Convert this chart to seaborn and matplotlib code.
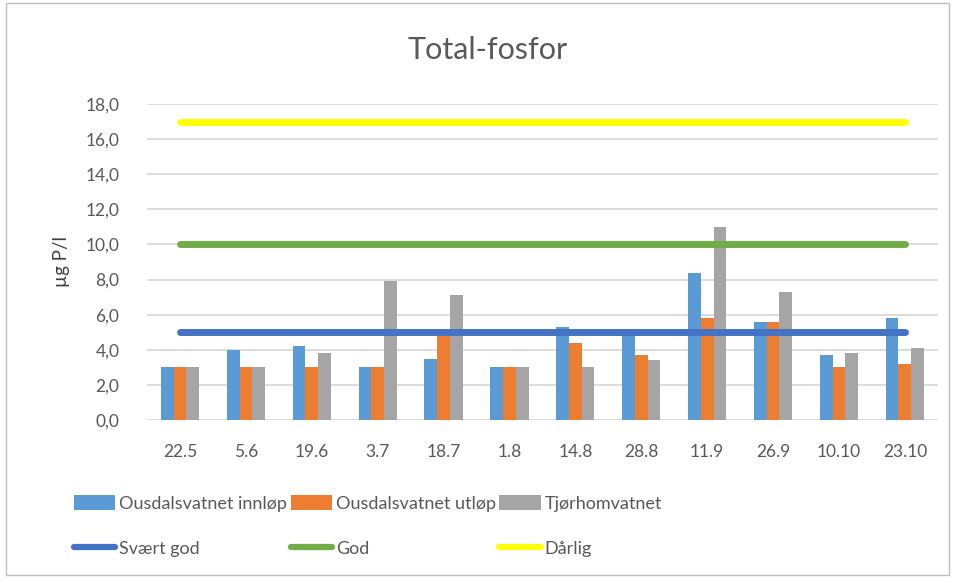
import matplotlib
matplotlib.use("Agg")
import matplotlib.pyplot as plt
from matplotlib.lines import Line2D
from matplotlib.patches import Patch, Rectangle
from matplotlib.ticker import FuncFormatter
import pandas as pd
import seaborn as sns

dates = ['22.5', '5.6', '19.6', '3.7', '18.7', '1.8', '14.8', '28.8', '11.9', '26.9', '10.10', '23.10']
innlop = [3.0, 4.0, 4.2, 3.0, 3.5, 3.0, 5.3, 5.0, 8.4, 5.6, 3.7, 5.8]
utlop = [3.0, 3.0, 3.0, 3.0, 4.8, 3.0, 4.4, 3.7, 5.8, 5.6, 3.0, 3.2]
tjorhom = [3.0, 3.0, 3.8, 7.9, 7.1, 3.0, 3.0, 3.4, 11.0, 7.3, 3.8, 4.1]
series = ['Ousdalsvatnet innløp', 'Ousdalsvatnet utløp', 'Tjørhomvatnet']
limit_names = ['Svært god', 'God', 'Dårlig']
limit_values = [5.0, 10.0, 17.0]

bar_colors = ['#5B9BD5', '#ED7D31', '#A5A5A5']
line_colors = ['#4472C4', '#70AD47', '#FFFF00']
txt = '#595959'

df = pd.DataFrame({
    'dato': dates * 3,
    'verdi': innlop + utlop + tjorhom,
    'stasjon': [s for s in series for _ in dates],
})

sns.set_style('white')
plt.rcParams['font.family'] = ['Lato', 'DejaVu Sans']

fig = plt.figure(figsize=(9.55, 5.79), dpi=100)
ax = fig.add_axes([0.154, 0.2746, 0.828, 0.5458])

sns.barplot(data=df, x='dato', y='verdi', hue='stasjon', palette=bar_colors,
            saturation=1, width=0.58, linewidth=0, legend=False, ax=ax, zorder=3)

for name, val, col in zip(limit_names, limit_values, line_colors):
    ldf = pd.DataFrame({'dato': dates, 'verdi': [val] * len(dates)})
    sns.lineplot(data=ldf, x='dato', y='verdi', color=col, linewidth=5,
                 solid_capstyle='round', ax=ax, zorder=4)

ax.set_ylim(0, 18)
ax.set_yticks([0, 2, 4, 6, 8, 10, 12, 14, 16, 18])
ax.yaxis.set_major_formatter(FuncFormatter(lambda v, p: f'{v:.1f}'.replace('.', ',')))
ax.set_xlim(-0.5, len(dates) - 0.5)
ax.grid(axis='y', color='#D9D9D9', linewidth=1.3, zorder=0)
ax.set_axisbelow(True)
for s in ax.spines.values():
    s.set_visible(False)
ax.tick_params(axis='both', length=0, labelsize=12.5, colors=txt)
ax.tick_params(axis='x', pad=17)
ax.tick_params(axis='y', pad=20)
ax.set_xlabel('')
ax.set_ylabel('µg P/l', fontsize=13.5, color='#404040', labelpad=11)

fig.text(0.511, 0.913, 'Total-fosfor', ha='center', va='center', fontsize=22, color=txt)

handles = []
labels = []
for i in range(3):
    handles.append(Patch(facecolor=bar_colors[i], edgecolor='none'))
    labels.append(series[i])
    handles.append(Line2D([], [], color=line_colors[i], linewidth=4.5, solid_capstyle='round'))
    labels.append(limit_names[i])
fig.legend(handles, labels, ncol=3, loc='upper left', bbox_to_anchor=(0.068, 0.16),
           frameon=False, fontsize=13, labelcolor=txt,
           handlelength=2.3, handleheight=0.9, handletextpad=0.2,
           columnspacing=0.2, labelspacing=1.55, borderpad=0)

fig.patches.append(Rectangle((0.006, 0.007), 0.988, 0.988, transform=fig.transFigure,
                             fill=False, edgecolor='#BFBFBF', linewidth=1))

fig.savefig('out.png', dpi=100)
